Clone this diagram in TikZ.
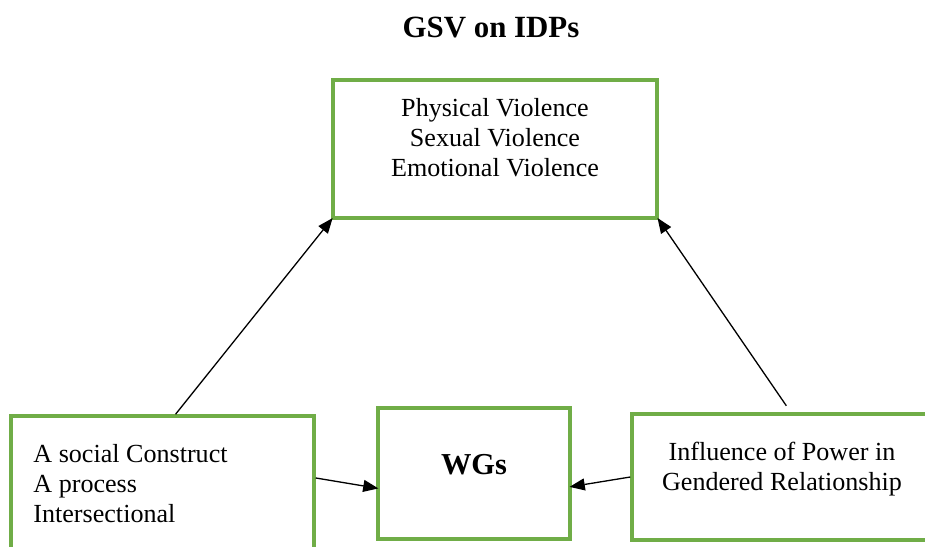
\documentclass[tikz,border=0pt]{standalone}
\usepackage{fontspec}
\setmainfont{Liberation Serif}
\usetikzlibrary{arrows.meta}

\definecolor{boxgreen}{RGB}{112,173,71}
\newcommand{\pxu}{0.46pt}

\tikzset{
    gsvbox/.style={rectangle, draw=boxgreen, line width=1.6pt, inner sep=0pt},
    boxtext/.style={font=\fontsize{12}{13.8}\selectfont, inner sep=0pt},
    conn/.style={-{Triangle[length=7pt,width=5.5pt]}, line width=0.6pt, shorten >=-1pt}
}

\begin{document}
\begin{tikzpicture}[x=0.46pt, y=-0.46pt]
    \useasboundingbox (0,0) rectangle (925,546);
    \clip (0,0) rectangle (925,546);

    % title
    \node[font=\fontsize{14.2}{16}\selectfont\bfseries] (title) at (491,28) {GSV on IDPs};

    % boxes
    \node[gsvbox, minimum width=324*\pxu, minimum height=138*\pxu] (forms) at (495,149) {};
    \node[gsvbox, minimum width=303*\pxu, minimum height=150*\pxu] (social) at (162.5,491) {};
    \node[gsvbox, minimum width=192*\pxu, minimum height=131*\pxu] (wgs) at (474,473.5) {};
    \node[gsvbox, minimum width=313*\pxu, minimum height=126*\pxu] (power) at (788.5,477) {};

    % texts
    \node[boxtext, align=center] (formstext) at (495,138) {Physical Violence\\Sexual Violence\\Emotional Violence};
    \node[boxtext, align=left, anchor=west] (socialtext) at (33,484) {A social Construct\\A process\\Intersectional};
    \node[font=\fontsize{14}{16}\selectfont\bfseries] (wgstext) at (474,465) {WGs};
    \node[boxtext, align=center] (powertext) at (782,469) {Influence of Power in\\Gendered Relationship};

    % connectors
    \draw[conn] ([xshift=6pt]social.north) -- (forms.south west);
    \draw[conn] ([xshift=-1pt,yshift=3pt]power.north) -- (forms.south east);
    \draw[conn] ([yshift=6pt]social.east) -- ([yshift=-6.7pt]wgs.west);
    \draw[conn] (power.west) -- ([yshift=-6pt]wgs.east);
\end{tikzpicture}
\end{document}
